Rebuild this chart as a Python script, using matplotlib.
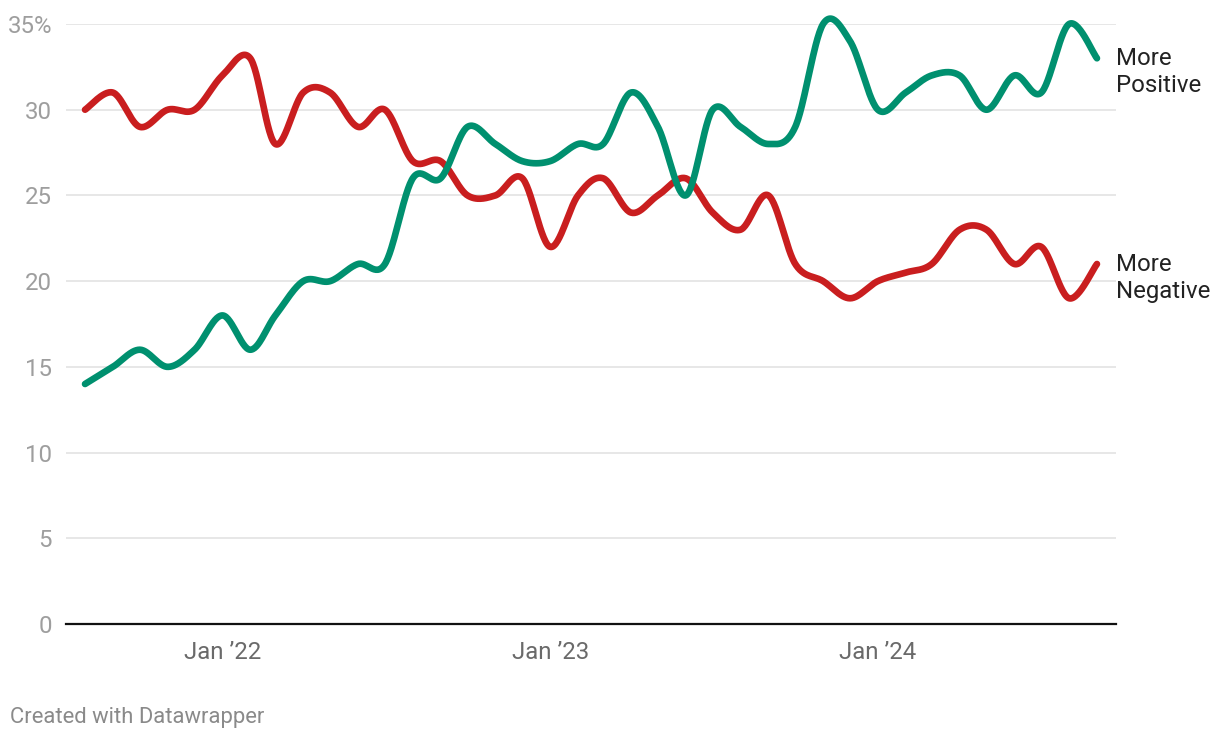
import numpy as np
import pandas as pd
import matplotlib
matplotlib.use("Agg")
import matplotlib.pyplot as plt
import matplotlib.dates as mdates

# monthly survey, Aug 2021 - Sep 2024
months = pd.date_range("2021-08-01", "2024-09-01", freq="MS")
more_positive = [14, 15, 16, 15, 16, 18, 16, 18, 20, 20, 21, 21, 26, 26, 29, 28, 27, 27, 28, 28,
                 31, 29, 25, 30, 29, 28, 29, 35, 34, 30, 31, 32, 32, 30, 32, 31, 35, 33]
more_negative = [30, 31, 29, 30, 30, 32, 33, 28, 31, 31, 29, 30, 27, 27, 25, 25, 26, 22, 25, 26,
                 24, 25, 26, 24, 23, 25, 21, 20, 19, 20, 20.5, 21, 23, 23, 21, 22, 19, 21]
yticks = [0, 5, 10, 15, 20, 25, 30, 35]
ytick_labels = ["0", "5", "10", "15", "20", "25", "30", "35%"]
xtick_dates = pd.to_datetime(["2022-01-01", "2023-01-01", "2024-01-01"])
xtick_labels = ["Jan \u201922", "Jan \u201923", "Jan \u201924"]

GREEN = "#00906f"
RED = "#c91e1f"

plt.rcParams["font.family"] = ["Roboto", "DejaVu Sans"]


def catmull(x, y, n=30):
    # uniform catmull-rom through the points, parametrised by index
    x = np.asarray(x, float)
    y = np.asarray(y, float)
    px = np.concatenate([[x[0]], x, [x[-1]]])
    py = np.concatenate([[y[0]], y, [y[-1]]])
    xs, ys = [], []
    t = np.linspace(0, 1, n, endpoint=False)
    h00 = 2 * t**3 - 3 * t**2 + 1
    h10 = t**3 - 2 * t**2 + t
    h01 = -2 * t**3 + 3 * t**2
    h11 = t**3 - t**2
    for i in range(len(x) - 1):
        mx0 = (px[i + 2] - px[i]) / 2
        mx1 = (px[i + 3] - px[i + 1]) / 2
        my0 = (py[i + 2] - py[i]) / 2
        my1 = (py[i + 3] - py[i + 1]) / 2
        xs.append(h00 * x[i] + h10 * mx0 + h01 * x[i + 1] + h11 * mx1)
        ys.append(h00 * y[i] + h10 * my0 + h01 * y[i + 1] + h11 * my1)
    xs.append([x[-1]])
    ys.append([y[-1]])
    return np.concatenate(xs), np.concatenate(ys)


fig = plt.figure(figsize=(12.2, 7.4), dpi=100)
ax = fig.add_axes([66 / 1220, 116 / 740, 1050 / 1220, 600 / 740])

xnum = mdates.date2num(months)
for vals, col in [(more_negative, RED), (more_positive, GREEN)]:
    sx, sy = catmull(xnum, vals)
    ax.plot(sx, sy, color=col, lw=4.8, solid_capstyle="round", solid_joinstyle="round",
            zorder=3, clip_on=False)

pad = 21.2
ax.set_xlim(xnum[0] - pad, xnum[-1] + pad)
ax.set_ylim(0, 35)

ax.set_yticks(yticks)
ax.set_yticklabels(ytick_labels)
ax.set_xticks(mdates.date2num(xtick_dates))
ax.set_xticklabels(xtick_labels)
ax.tick_params(axis="y", length=0, pad=10, labelsize=17.3, labelcolor="#9e9e9e")
ax.tick_params(axis="x", length=0, pad=12, labelsize=17.3, labelcolor="#6a6a6a")

ax.grid(axis="y", color="#e3e3e3", lw=1.2, zorder=0)
ax.grid(axis="x", visible=False)
for s in ["top", "right", "left"]:
    ax.spines[s].set_visible(False)
ax.spines["bottom"].set_color("#111111")
ax.spines["bottom"].set_linewidth(1.6)
ax.spines["bottom"].set_zorder(4)

# line labels at the end of each series
ax.annotate("More\nPositive", xy=(xnum[-1], more_positive[-1]), xytext=(19, -14),
            textcoords="offset pixels", va="center", ha="left", fontsize=17.3,
            color="#222222", linespacing=1.2, annotation_clip=False)
ax.annotate("More\nNegative", xy=(xnum[-1], more_negative[-1]), xytext=(19, -14),
            textcoords="offset pixels", va="center", ha="left", fontsize=17.3,
            color="#222222", linespacing=1.2, annotation_clip=False)

fig.text(10 / 1220, 1 - 717 / 740, "Created with Datawrapper", fontsize=15.8,
         color="#8a8a8a", va="center", ha="left")

fig.savefig("out.png", dpi=100)
